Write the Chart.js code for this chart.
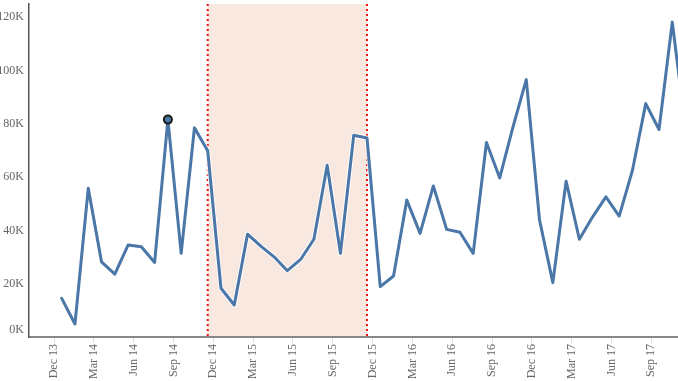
<!DOCTYPE html>
<html>
<head>
<meta charset="utf-8">
<script src="https://cdn.jsdelivr.net/npm/chart.js@4"></script>
<style>
  html, body { margin: 0; padding: 0; background: #fff; }
  canvas { display: block; }
</style>
</head>
<body>
<canvas id="myChart" width="678" height="381"></canvas>
<script>
// monthly values (K), Jan 14 .. Dec 17
const values = [
  14.5, 4.9, 55.8, 28.2, 23.6, 34.5, 33.9, 28.0, 81.6, 31.4, 78.5, 69.9,
  18.3, 12.0, 38.6, 34.1, 30.1, 24.9, 29.1, 36.7, 64.5, 31.4, 75.7, 74.7,
  18.9, 22.9, 51.4, 38.9, 56.7, 40.4, 39.3, 31.4, 73.0, 59.7, 78.9, 96.6,
  43.9, 20.4, 58.5, 36.7, 45.1, 52.6, 45.4, 62.6, 87.6, 77.9, 118.2, 78.0
];
// month index of each tick label (Dec 13 = 0)
const tickMonths = [0, 3, 6, 9, 12, 15, 18, 21, 24, 27, 30, 33, 36, 39, 42, 45];
const tickLabels = ["Dec 13", "Mar 14", "Jun 14", "Sep 14", "Dec 14", "Mar 15", "Jun 15", "Sep 15",
  "Dec 15", "Mar 16", "Jun 16", "Sep 16", "Dec 16", "Mar 17", "Jun 17", "Sep 17"];
const yTicks = [0, 20, 40, 60, 80, 100, 120];

const highlightIndex = 8;   // Sep 14
const bandStart = 12;       // Dec 14
const bandEnd = 24;         // Dec 15
const tickOffset = 0.42;

const points = values.map((v, i) => ({ x: i + 1, y: v }));

const bandPlugin = {
  id: "band",
  beforeDraw(chart) {
    const { ctx, chartArea, scales } = chart;
    const x1 = scales.x.getPixelForValue(bandStart);
    const x2 = scales.x.getPixelForValue(bandEnd);
    ctx.save();
    ctx.fillStyle = "#f9e8e0";
    ctx.fillRect(x1, chartArea.top, x2 - x1, chartArea.bottom - chartArea.top);
    ctx.strokeStyle = "#f01010";
    ctx.lineWidth = 2;
    ctx.setLineDash([2, 3]);
    [x1, x2].forEach((x) => {
      ctx.beginPath();
      ctx.moveTo(x, chartArea.top);
      ctx.lineTo(x, chartArea.bottom);
      ctx.stroke();
    });
    ctx.restore();
  }
};

const font = { family: "'Liberation Serif', 'Times New Roman', serif", size: 12 };

const ctx = document.getElementById("myChart").getContext("2d");
const myChart = new Chart(ctx, {
  type: "line",
  data: {
    datasets: [
      {
        data: points,
        borderColor: "#4a76a8",
        borderWidth: 3,
        borderJoinStyle: "round",
        borderCapStyle: "round",
        tension: 0,
        pointRadius: (c) => (c.dataIndex === highlightIndex ? 4 : 0),
        pointBackgroundColor: "#4a76a8",
        pointBorderColor: "#1b1b1b",
        pointBorderWidth: 2
      },
      {
        // white halo under the line
        data: points,
        borderColor: "rgba(255,255,255,0.85)",
        borderWidth: 5,
        borderJoinStyle: "round",
        borderCapStyle: "round",
        tension: 0,
        pointRadius: 0
      }
    ]
  },
  options: {
    responsive: false,
    animation: false,
    layout: { padding: { top: 4, right: 0, left: 0, bottom: 0 } },
    plugins: { legend: { display: false }, tooltip: { enabled: false } },
    scales: {
      x: {
        type: "linear",
        min: -1.464,
        max: 47.43,
        afterBuildTicks: (scale) => {
          scale.ticks = tickMonths.map((m) => ({ value: m + tickOffset }));
        },
        afterFit: (scale) => {
          scale.height = 44;
          scale.paddingLeft = 0;
          scale.paddingRight = 0;
        },
        border: { color: "#888", width: 2 },
        grid: { drawOnChartArea: false, drawTicks: true, tickLength: 6, tickColor: "#dddddd" },
        ticks: {
          autoSkip: false,
          minRotation: 90,
          maxRotation: 90,
          padding: 1,
          color: "#666",
          font: font,
          callback: (v, i) => tickLabels[i]
        }
      },
      y: {
        min: 0,
        max: 125,
        afterBuildTicks: (scale) => {
          scale.ticks = yTicks.map((v) => ({ value: v }));
        },
        afterFit: (scale) => {
          scale.width = 29;
          scale.paddingTop = 0;
          scale.paddingBottom = 0;
        },
        border: { color: "#555", width: 1.5 },
        grid: { drawOnChartArea: false, drawTicks: false },
        ticks: {
          padding: 5,
          color: "#666",
          font: font,
          callback: (v) => (v === 0 ? ["0K", ""] : v + "K")
        }
      }
    }
  },
  plugins: [bandPlugin]
});
</script>
</body>
</html>
